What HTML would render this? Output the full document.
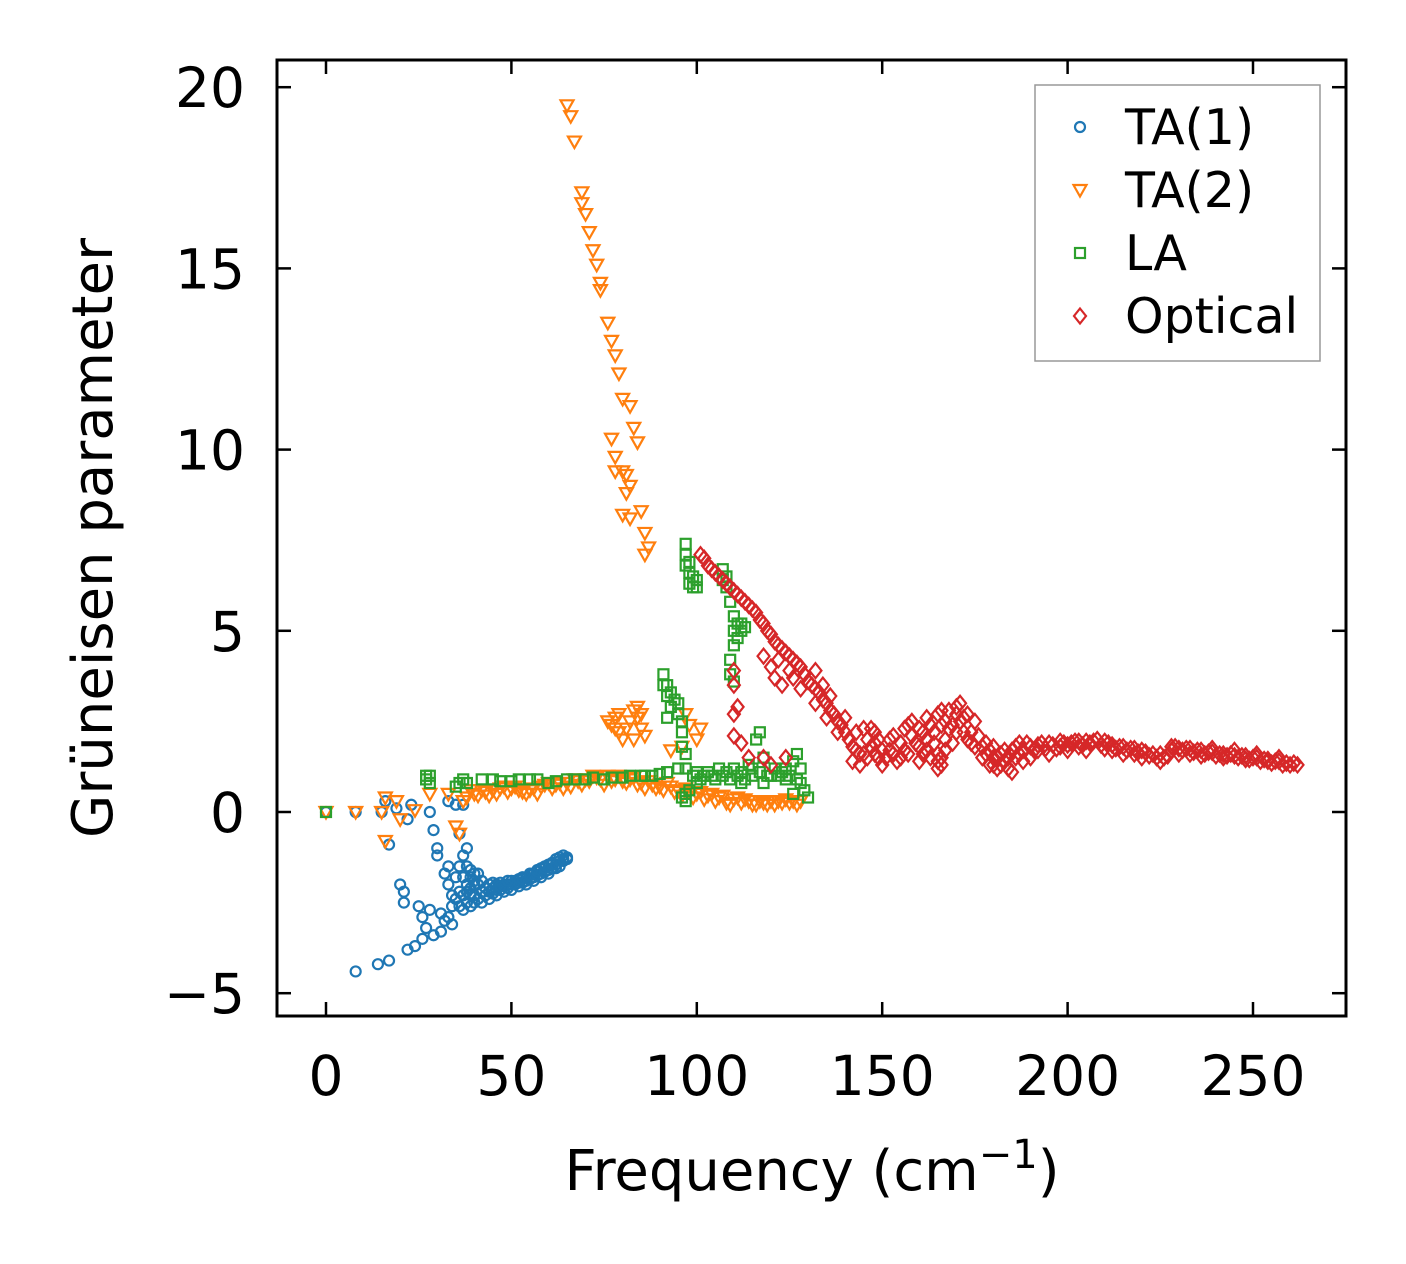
<!DOCTYPE html>
<html><head><meta charset="utf-8">
<style>
html,body{margin:0;padding:0;background:#fff;}
svg{display:block;font-family:"DejaVu Sans","Liberation Sans",sans-serif;}
</style></head>
<body>
<svg id="chart" width="1406" height="1264" viewBox="0 0 1406 1264" xmlns="http://www.w3.org/2000/svg">
<g id="marks"></g>
<g id="axes"></g>
</svg>
<script>
const xTicks = [0, 50, 100, 150, 200, 250];
const yTicks = [-5, 0, 5, 10, 15, 20];
const seriesNames = ["TA(1)", "TA(2)", "LA", "Optical"];
const ta1 = [[0,0],[8,0],[15,0],[8,-4.4],[14,-4.2],[17,-4.1],[17,-0.9],[16,0.3],[19,0.1],[20,-2],[21,-2.5],[21,-2.2],[22,-0.2],[23,0.2],[22,-3.8],[24,-3.7],[25,-2.6],[26,-3.5],[26,-2.9],[27,-3.2],[28,-2.7],[28,0],[29,-0.5],[29,-3.4],[30,-1.2],[30,-1.0],[31,-2.8],[31,-3.3],[32,-1.7],[32,-3.0],[33,-1.5],[33,-2.0],[33,0.3],[34,-3.1],[34,-2.3],[35,0.2],[35,-1.8],[36,-2.2],[36,-0.6],[37,-2.7],[37,-1.2],[37,0.2],[38,-2.5],[38,-1.0],[38,-1.5],[39,-2.1],[39,-1.8],[40,-1.9],[40,-2.3],[41,-2.0],[42,-2.2],[43,-2.1],[44,-2.0],[45,-2.1],[46,-2.0],[47,-1.95],[48,-2.0],[49,-2.0],[50,-1.9],[51,-1.9],[52,-1.85],[53,-1.8],[54,-1.8],[55,-1.7],[56,-1.7],[57,-1.6],[58,-1.55],[59,-1.5],[60,-1.45],[61,-1.4],[62,-1.3],[63,-1.25],[64,-1.2],[42,-2.5],[44,-2.4],[46,-2.3],[48,-2.2],[50,-2.15],[52,-2.05],[54,-2.0],[56,-1.9],[58,-1.8],[60,-1.7],[62,-1.55],[63,-1.5],[41,-2.4],[43,-2.3],[45,-2.25],[47,-2.15],[49,-2.1],[51,-2.0],[53,-1.95],[55,-1.85],[57,-1.75],[59,-1.65],[61,-1.55],[64,-1.35],[65,-1.25],[39,-2.6],[40,-2.0],[38,-2.2],[41,-1.7],[42,-1.9],[44,-2.2],[46,-2.15],[48,-2.05],[50,-2.0],[52,-1.95],[54,-1.9],[56,-1.8],[58,-1.7],[60,-1.6],[62,-1.45],[64,-1.3],[39,-2.3],[40,-2.5],[37,-2.3],[36,-2.6],[35,-2.4],[34,-2.6],[33,-2.9],[36,-1.5],[37,-1.8],[38,-2.0],[39,-1.6],[40,-1.7],[45,-1.95],[47,-2.05],[49,-1.9],[53,-1.85],[55,-1.75],[57,-1.65],[59,-1.55],[61,-1.45],[63,-1.35],[65,-1.3]];
const ta2 = [[0,0],[8,0],[15,0],[16,0.4],[16,-0.8],[19,0.3],[20,-0.2],[24,0.05],[28,0.5],[33,0.5],[35,-0.4],[36,-0.6],[37,0.3],[40,0.5],[42,0.6],[45,0.6],[48,0.7],[50,0.65],[52,0.6],[55,0.6],[58,0.7],[60,0.8],[62,0.75],[65,0.8],[68,0.85],[70,0.9],[72,1.0],[74,0.9],[76,1.0],[78,0.9],[80,0.85],[82,0.9],[85,0.8],[88,0.75],[90,0.7],[93,0.7],[95,0.6],[98,0.55],[100,0.5],[103,0.45],[106,0.4],[110,0.35],[114,0.3],[118,0.25],[122,0.3],[125,0.25],[128,0.3],[44,0.45],[54,0.5],[64,0.65],[75,0.75],[86,0.65],[96,0.45],[108,0.25],[116,0.2],[38,0.4],[39,0.6],[41,0.45],[43,0.55],[46,0.5],[47,0.65],[49,0.55],[51,0.7],[53,0.55],[56,0.65],[57,0.5],[59,0.75],[61,0.65],[63,0.8],[66,0.7],[67,0.9],[69,0.75],[71,0.85],[73,0.95],[77,0.85],[79,1.0],[81,0.8],[83,0.95],[84,0.75],[87,0.85],[89,0.65],[91,0.6],[92,0.8],[94,0.55],[97,0.65],[99,0.4],[101,0.55],[102,0.35],[104,0.5],[105,0.3],[107,0.45],[109,0.2],[111,0.4],[112,0.25],[113,0.35],[115,0.2],[117,0.3],[119,0.2],[120,0.3],[121,0.2],[123,0.25],[124,0.35],[126,0.3],[127,0.2],[65,19.5],[66,19.2],[67,18.5],[69,17.1],[69,16.8],[70,16.5],[71,16],[72,15.5],[73,15.1],[74,14.6],[74,14.4],[76,13.5],[77,13.0],[78,12.6],[79,12.1],[80,11.4],[82,11.2],[83,10.6],[84,10.2],[77,10.3],[78,9.8],[78,9.4],[80,9.4],[81,9.3],[82,9.0],[81,8.8],[80,8.2],[82,8.1],[85,8.3],[86,7.7],[87,7.3],[86,7.1],[77,2.4],[78,2.6],[79,2.2],[80,2.0],[82,2.5],[83,2.8],[84,2.6],[85,2.3],[86,2.1],[97,2.7],[98,2.4],[100,2.0],[96,1.8],[101,2.3],[93,1.7],[78,2.3],[81,2.3],[83,2.0],[84,2.9],[85,2.7],[76,2.5],[79,2.7]];
const la = [[0,0],[27,0.9],[27,1.0],[28,0.8],[35,0.7],[37,0.9],[38,0.8],[45,0.9],[50,0.85],[55,0.9],[60,0.8],[65,0.9],[70,0.9],[75,0.9],[80,0.95],[85,1.0],[88,1.0],[92,1.1],[95,1.2],[97,0.3],[97,0.5],[98,0.6],[97,7.4],[97,7.1],[98,6.9],[99,6.5],[99,6.2],[100,6.4],[98,6.3],[107,6.7],[108,6.5],[109,5.8],[110,5.4],[111,5.2],[112,5.0],[113,5.1],[110,4.6],[109,4.2],[109,3.8],[110,3.6],[91,3.8],[91,3.5],[92,3.2],[93,2.9],[92,2.6],[94,3.1],[95,2.7],[96,2.2],[96,1.8],[97,1.6],[100,1.1],[103,1.1],[106,1.2],[108,1.1],[110,1.2],[112,1.1],[114,1.3],[116,2.0],[117,2.2],[118,1.5],[120,1.0],[122,1.0],[124,0.9],[126,1.4],[127,1.6],[128,0.8],[130,0.4],[126,0.5],[118,0.8],[112,0.8],[105,0.9],[100,0.8],[102,1.0],[115,1.0],[121,1.2],[124,1.2],[99,1.0],[101,0.9],[104,1.0],[107,1.0],[109,0.9],[111,1.0],[113,0.9],[115,1.2],[117,1.1],[119,1.0],[123,1.1],[125,1.0],[127,0.9],[129,0.6],[128,1.2],[98,6.6],[97,6.8],[100,6.2],[108,6.2],[107,6.4],[110,5.0],[112,5.2],[111,4.8],[92,3.5],[93,3.3],[95,3.0],[96,2.5],[97,1.2],[96,0.4],[42,0.9],[47,0.85],[52,0.9],[57,0.9],[62,0.85],[67,0.9],[72,0.95],[77,0.95],[82,1.0],[86,1.0],[90,1.05],[28,1.0],[36,0.8]];
const optical = [[101,7.1],[103,6.8],[105,6.6],[107,6.4],[109,6.2],[111,6.0],[113,5.8],[115,5.6],[117,5.3],[119,5.0],[121,4.7],[123,4.5],[125,4.3],[127,4.1],[129,3.8],[131,3.5],[133,3.3],[135,3.0],[137,2.7],[139,2.4],[141,2.0],[143,1.7],[145,1.6],[147,1.8],[149,1.5],[120,4.0],[121,3.7],[123,3.5],[118,4.3],[132,3.9],[134,3.5],[136,3.2],[140,2.6],[145,2.3],[148,2.2],[110,3.9],[110,3.5],[111,2.9],[110,2.7],[110,2.1],[112,1.9],[114,1.5],[118,1.5],[120,1.3],[124,1.5],[152,1.7],[155,1.9],[157,2.4],[158,2.1],[160,1.8],[162,1.7],[163,2.4],[165,2.7],[166,1.5],[167,2.0],[168,2.8],[170,2.9],[171,3.0],[172,2.6],[174,2.2],[175,1.8],[177,1.5],[179,1.3],[181,1.2],[183,1.4],[185,1.7],[187,1.9],[190,1.8],[193,1.9],[196,1.85],[199,1.9],[202,1.95],[205,1.95],[208,2.0],[211,1.9],[214,1.8],[217,1.75],[220,1.7],[223,1.6],[226,1.5],[229,1.8],[232,1.75],[235,1.7],[238,1.65],[241,1.6],[244,1.6],[247,1.55],[250,1.5],[253,1.45],[256,1.4],[259,1.35],[262,1.3],[144,1.3],[150,1.3],[155,1.5],[165,1.4],[170,2.2],[180,1.5],[190,1.5],[200,1.7],[210,1.75],[220,1.5],[185,1.1],[165,1.2],[160,1.4],[175,2.5],[148,1.9],[142,1.4],[188,1.4],[195,1.6],[205,1.7],[215,1.6],[225,1.4],[146,2.0],[153,2.1],[158,2.5],[161,2.2],[164,1.9],[169,2.4],[173,2.0],[178,1.9],[182,1.6],[186,1.5],[192,1.7],[198,1.8],[203,1.8],[212,1.7],[218,1.6],[230,1.6],[236,1.55],[242,1.5],[248,1.45],[254,1.4],[260,1.3],[228,1.7],[233,1.6],[239,1.75],[245,1.7],[251,1.6],[257,1.5],[102,7.0],[104,6.7],[106,6.5],[108,6.3],[110,6.1],[112,5.9],[114,5.7],[116,5.5],[118,5.2],[120,4.9],[122,4.6],[124,4.4],[126,4.2],[128,4.0],[130,3.6],[132,3.4],[134,3.1],[136,2.8],[138,2.5],[140,2.2],[142,1.8],[144,1.6],[146,1.5],[148,1.6],[150,1.7],[151,1.5],[153,1.6],[154,1.4],[156,1.7],[157,1.6],[159,1.9],[161,1.6],[162,2.0],[163,1.5],[164,2.2],[166,2.4],[167,1.7],[168,2.3],[169,1.9],[171,2.5],[172,2.2],[173,2.7],[174,1.9],[176,2.1],[177,1.8],[178,1.6],[179,1.7],[180,1.3],[181,1.5],[182,1.3],[183,1.7],[184,1.5],[186,1.8],[187,1.6],[188,1.7],[189,1.9],[191,1.7],[192,1.85],[194,1.75],[195,1.9],[197,1.75],[198,1.95],[200,1.85],[201,1.9],[203,1.95],[204,1.85],[206,1.9],[207,1.95],[209,1.85],[210,1.95],[212,1.85],[213,1.75],[215,1.8],[216,1.7],[218,1.75],[219,1.65],[221,1.65],[222,1.55],[224,1.5],[225,1.6],[227,1.55],[228,1.8],[230,1.75],[231,1.7],[233,1.75],[234,1.65],[236,1.7],[237,1.6],[239,1.65],[240,1.55],[242,1.6],[243,1.55],[245,1.55],[246,1.5],[248,1.55],[249,1.45],[251,1.5],[252,1.4],[254,1.45],[255,1.35],[257,1.4],[258,1.3],[261,1.35],[132,3.0],[135,2.6],[138,2.2],[126,3.7],[128,3.4],[122,4.2],[125,3.9],[143,2.2],[147,2.3],[149,2.0],[152,2.0],[156,2.3],[160,2.3],[162,2.6],[166,2.8],[167,2.5],[170,2.7],[165,1.6],[166,1.3],[180,1.8],[184,1.2]];

const X0 = 277, X1 = 1346, Y0 = 60, Y1 = 1016;
function xs(v){ return 326 + v * (927/250); }
function ys(v){ return 812 - v * (906/25); }
const NS = "http://www.w3.org/2000/svg";
const colors = ["#1f77b4","#ff7f0e","#2ca02c","#d62728"];
function mk(tag, attrs, parent){
  const el = document.createElementNS(NS, tag);
  for (const k in attrs) el.setAttribute(k, attrs[k]);
  parent.appendChild(el);
  return el;
}
function marker(kind, cx, cy, parent){
  const c = colors[kind];
  const base = {fill:"none", stroke:c, "stroke-width":2.2};
  let el;
  if (kind === 0) el = mk("circle", Object.assign({cx:cx, cy:cy, r:5}, base), parent);
  else if (kind === 1) el = mk("polygon", Object.assign({points:`${cx-6.5},${cy-5} ${cx+6.5},${cy-5} ${cx},${cy+6.5}`}, base), parent);
  else if (kind === 2) el = mk("rect", Object.assign({x:cx-5, y:cy-5, width:10, height:10}, base), parent);
  else el = mk("polygon", Object.assign({points:`${cx},${cy-7.5} ${cx+6},${cy} ${cx},${cy+7.5} ${cx-6},${cy}`}, base), parent);
  return el;
}
const marks = document.getElementById("marks");
const axes = document.getElementById("axes");
const allSeries = [ta1, ta2, la, optical];
const seriesKeys = ["ta1","ta2","la","optical"];
allSeries.forEach((data, k) => {
  const g = mk("g", {}, marks);
  
  
  data.forEach(p => {
    const el = marker(k, xs(p[0]), ys(p[1]), g);
    
    
  });
});
const frame = mk("rect", {x:X0, y:Y0, width:X1-X0, height:Y1-Y0, fill:"none", stroke:"#000", "stroke-width":3}, axes);


xTicks.forEach(t => {
  const x = xs(t);
  mk("line", {x1:x, y1:Y1, x2:x, y2:Y1-14, stroke:"#000", "stroke-width":2.5}, axes);
  mk("line", {x1:x, y1:Y0, x2:x, y2:Y0+14, stroke:"#000", "stroke-width":2.5}, axes);
  const tx = mk("text", {x:x, y:1095, "font-size":55, "text-anchor":"middle", fill:"#000"}, axes);
  tx.textContent = String(t);
  
  
});
yTicks.forEach(t => {
  const y = ys(t);
  mk("line", {x1:X0, y1:y, x2:X0+14, y2:y, stroke:"#000", "stroke-width":2.5}, axes);
  mk("line", {x1:X1, y1:y, x2:X1-14, y2:y, stroke:"#000", "stroke-width":2.5}, axes);
  const tx = mk("text", {x:245, y:y+20, "font-size":55, "text-anchor":"end", fill:"#000"}, axes);
  tx.textContent = t < 0 ? "\u2212" + Math.abs(t) : String(t);
  
  
});
const xl = mk("text", {x:812, y:1190, "font-size":56, "text-anchor":"middle", fill:"#000"}, axes);
xl.innerHTML = 'Frequency (cm<tspan dy="-22" font-size="40">\u22121</tspan><tspan dy="22">)</tspan>';


const yl = mk("text", {x:0, y:0, "font-size":56, "text-anchor":"middle", fill:"#000", transform:"translate(112,538) rotate(-90)"}, axes);
yl.textContent = "Grüneisen parameter";


const lg = mk("g", {}, axes);


mk("rect", {x:1035, y:85, width:285, height:276, fill:"#fff", "fill-opacity":0.8, stroke:"#999", "stroke-width":1.5}, lg);
seriesNames.forEach((n, k) => {
  const y = 127 + k * 63;
  const e = mk("g", {}, lg);
  
  
  marker(k, 1080, y, e);
  const t = mk("text", {x:1125, y:y+17, "font-size":49, fill:"#000"}, e);
  t.textContent = n;
});
</script>
</body></html>
